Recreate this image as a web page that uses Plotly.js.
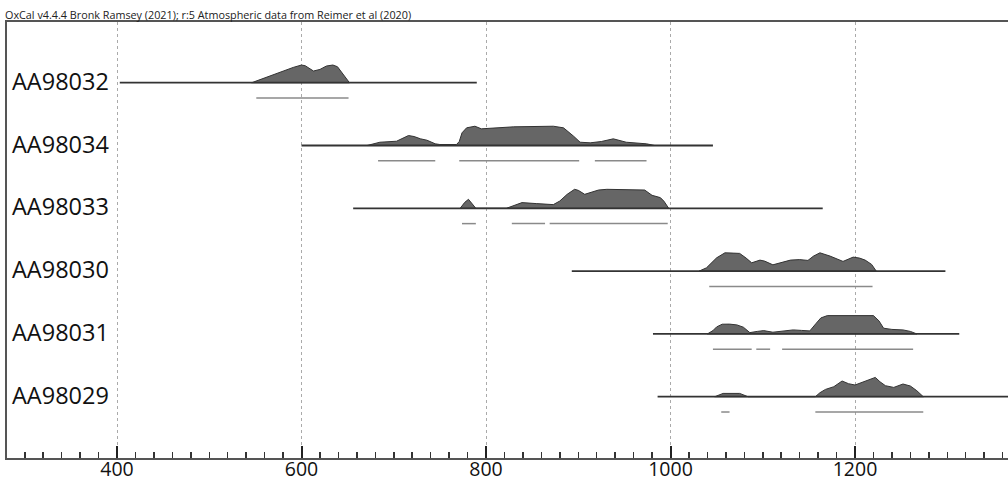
<!DOCTYPE html>
<html><head><meta charset="utf-8">
<script src="https://cdn.plot.ly/plotly-3.0.1.min.js"></script>
<style>html,body{margin:0;padding:0;background:#fff}#chart{width:1008px;height:481px}</style>
</head><body><div id="chart"></div>
<script>
// ---- data ----
const titleText = "OxCal v4.4.4 Bronk Ramsey (2021); r:5 Atmospheric data from Reimer et al (2020)";
const names = ["AA98032", "AA98034", "AA98033", "AA98030", "AA98031", "AA98029"];
const rowPos = [6, 5, 4, 3, 2, 1];
const rangeStart = [403, 600, 656, 893, 981, 986];
const rangeEnd = [790, 1046, 1165, 1298, 1313, 1366];

const yearsAA98032 = [546, 562, 577, 591, 600, 604, 613, 620, 627, 634, 639, 652];
const probAA98032  = [0, 5.3, 11, 15.3, 17.7, 17, 11.7, 13.3, 16.7, 17.7, 16, 0];

const yearsAA98034 = [671, 685, 703, 709, 716, 722, 729, 736, 745, 750, 768, 771, 774, 779, 788, 795, 812, 830, 873, 884, 895, 902, 913, 925, 938, 952, 974, 983];
const probAA98034  = [0, 3.3, 4.3, 7, 10, 9, 6.7, 5.3, 1.7, 1, 1, 4, 12.7, 17.7, 19.3, 16.7, 17.7, 18.7, 19.3, 17.7, 9.3, 3.3, 2.7, 4, 6.7, 3.3, 1.7, 0];

const yearsAA98033 = [772, 777, 781, 785, 789, 822, 830, 839, 855, 873, 880, 888, 896, 900, 907, 915, 922, 931, 972, 980, 989, 993, 998];
const probAA98033  = [0, 6, 9, 5, 0, 0, 3, 5.7, 4.7, 3.7, 7.3, 14, 19, 18, 14, 16.5, 18.3, 19, 18.3, 13, 10.7, 7, 0];

const yearsAA98030 = [1031, 1039, 1050, 1059, 1068, 1075, 1082, 1088, 1097, 1102, 1111, 1120, 1130, 1140, 1149, 1155, 1162, 1173, 1180, 1187, 1198, 1205, 1211, 1218, 1223];
const probAA98030  = [0, 3.3, 13.3, 18.3, 18, 17.7, 13, 8.3, 11, 10, 6.3, 8.5, 11, 11.5, 10.7, 15, 18.3, 15, 12, 9.7, 14, 13, 11, 6.7, 0];

const yearsAA98031 = [1040, 1046, 1050, 1056, 1064, 1072, 1079, 1086, 1094, 1101, 1111, 1122, 1133, 1142, 1151, 1158, 1163, 1170, 1220, 1226, 1231, 1240, 1252, 1260, 1267];
const probAA98031  = [0, 3.3, 7, 9.7, 9.8, 9, 6.7, 1.3, 2.5, 3.3, 1.7, 2.5, 4, 3.5, 3, 10.7, 16, 18.3, 18.3, 13, 5.7, 4.5, 4, 2.5, 0];

const yearsAA98029 = [1048, 1057, 1075, 1084, 1157, 1162, 1168, 1177, 1186, 1193, 1200, 1211, 1222, 1227, 1233, 1242, 1252, 1260, 1267, 1274];
const probAA98029  = [0, 3.3, 3.3, 0, 0, 4, 7.3, 10, 15.7, 13, 11.7, 15.5, 19.3, 15, 11, 9.3, 12.7, 10.7, 6, 0];

const hpdAA98032 = [[551, 651]];
const hpdAA98034 = [[683, 745], [771, 901], [918, 974]];
const hpdAA98033 = [[774, 789], [828, 864], [869, 997]];
const hpdAA98030 = [[1042, 1219]];
const hpdAA98031 = [[1046, 1088], [1093, 1108], [1121, 1263]];
const hpdAA98029 = [[1055, 1064], [1157, 1274]];

const tickYears = [400, 600, 800, 1000, 1200];

// ---- assembly ----
const densYears = [yearsAA98032, yearsAA98034, yearsAA98033, yearsAA98030, yearsAA98031, yearsAA98029];
const densProb = [probAA98032, probAA98034, probAA98033, probAA98030, probAA98031, probAA98029];
const hpd = [hpdAA98032, hpdAA98034, hpdAA98033, hpdAA98030, hpdAA98031, hpdAA98029];

const HSCALE = 1 / 62.8;     // height of density in row units
const UNDER = 15.3 / 62.8;   // offset of range underlines

const traces = [];
names.forEach((n, i) => {
  const b = rowPos[i];
  const xs = densYears[i].slice();
  const ys = densProb[i].map(v => b + v * HSCALE);
  xs.push(xs[xs.length - 1], xs[0]);
  ys.push(b, b);
  traces.push({type: 'scatter', mode: 'lines', x: xs, y: ys, fill: 'toself',
    fillcolor: '#666666', line: {color: '#333', width: 1}, hoverinfo: 'skip', showlegend: false});
});
names.forEach((n, i) => {
  const b = rowPos[i];
  traces.push({type: 'scatter', mode: 'lines', x: [rangeStart[i], rangeEnd[i]], y: [b, b],
    line: {color: '#333', width: 1.8}, hoverinfo: 'skip', showlegend: false});
  const hx = [], hy = [];
  hpd[i].forEach(r => { hx.push(r[0], r[1], null); hy.push(b - UNDER, b - UNDER, null); });
  traces.push({type: 'scatter', mode: 'lines', x: hx, y: hy,
    line: {color: '#8a8a8a', width: 1.5}, hoverinfo: 'skip', showlegend: false});
});

const annotations = names.map((n, i) => ({
  text: n, xref: 'paper', x: 3 / 1001, xanchor: 'left',
  yref: 'y', y: rowPos[i] + 0.03, yanchor: 'middle', showarrow: false,
  font: {family: 'Open Sans', size: 23.5, color: '#111'}
}));

const layout = {
  width: 1008, height: 481,
  margin: {l: 7, r: 0, t: 22, b: 23, pad: 0},
  paper_bgcolor: '#fff', plot_bgcolor: '#fff',
  title: {text: titleText, font: {family: 'Open Sans', size: 10.8, color: '#222'},
    x: 5 / 1008, xanchor: 'left', xref: 'container', y: 1 - 15 / 481, yref: 'container', yanchor: 'middle'},
  xaxis: {range: [280.76, 1365.85], tickmode: 'array', tickvals: tickYears,
    ticks: 'inside', ticklen: 12, tickwidth: 2, tickcolor: '#222',
    showgrid: true, gridcolor: '#aaaaaa', griddash: '3px,3px', gridwidth: 1,
    showline: true, linecolor: '#555', linewidth: 2, mirror: true, zeroline: false,
    tickfont: {family: 'Open Sans', size: 19.5, color: '#111'}, ticklabelstandoff: -7,
    minor: {tickmode: 'linear', tick0: 0, dtick: 20, ticks: 'inside', ticklen: 6, tickwidth: 1.5, tickcolor: '#333', showgrid: false}},
  yaxis: {range: [0.024, 6.967], showgrid: false, zeroline: false, showticklabels: false, ticks: '',
    showline: true, linecolor: '#555', linewidth: 2, mirror: false},
  annotations: annotations,
  showlegend: false
};

Plotly.newPlot('chart', traces, layout, {staticPlot: true, displayModeBar: false});
</script>
</body></html>
